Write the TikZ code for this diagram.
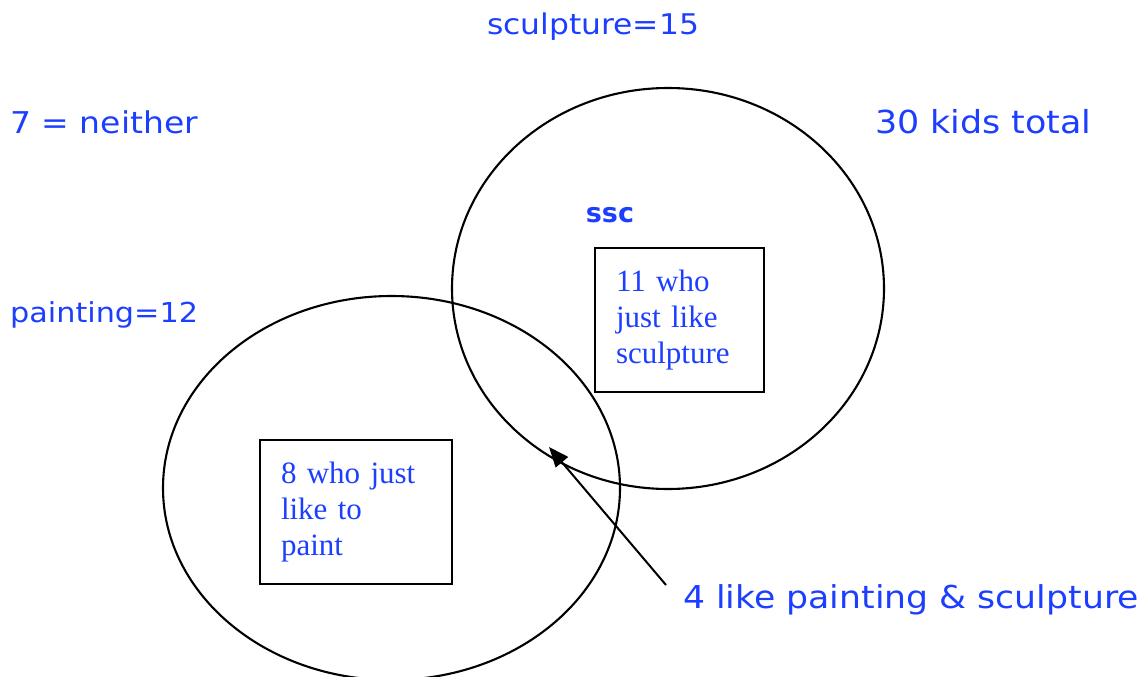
\documentclass[tikz,border=0pt]{standalone}
\usepackage{fontspec}
\setmainfont{DejaVu Sans}[FakeStretch=1.1]
\newfontfamily\boxfont{Liberation Serif}
\newfontfamily\boldsans{DejaVu Sans}
\usetikzlibrary{arrows.meta}
\definecolor{lblue}{RGB}{28,62,255}
\tikzset{
  lbl/.style={text=lblue, inner sep=0pt, font=\fontsize{#1}{34}\selectfont},
  lbl/.default=30,
  setline/.style={line width=2.1pt, black},
  boxnode/.style={draw, line width=2.2pt, text=lblue, align=left, inner xsep=21pt, inner ysep=0pt,
     font=\boxfont\fontsize{31}{36}\selectfont},
}
\begin{document}
\begin{tikzpicture}[x=1pt,y=-1pt]
\useasboundingbox (0,0) rectangle (1143,677);
% sets
\draw[setline] (668,288.5) ellipse [x radius=216pt, y radius=200.5pt];
\draw[setline] (391.5,488) ellipse [x radius=228.5pt, y radius=192pt];
% boxes
\node[boxnode, minimum width=169pt, minimum height=144pt, text width=127pt] (sbox) at (679.5,320) {11 who\\just like\\sculpture};
\node[boxnode, minimum width=192pt, minimum height=144pt, text width=150pt] (pbox) at (356,512) {8 who just\\like to\\paint};
% labels
\node[lbl=28.5] (sc) at (593,27) {sculpture=15};
\node[lbl, anchor=west] (nei) at (10,122) {7 = neither};
\node[lbl=31.7, anchor=west] (tot) at (875,122) {30 kids total};
\node[lbl=27.5, anchor=west] (pai) at (10,315) {painting=12};
\node[text=lblue, inner sep=0pt, font=\boldsans\bfseries\fontsize{27}{30}\selectfont] (ssc) at (610,215) {ssc};
\node[lbl=31.5, anchor=west] (both) at (683,600) {4 like painting \& sculpture};
% arrow
\coordinate (astart) at (666,585);
\coordinate (atip) at (549,447);
\draw[line width=2pt, -{Triangle[length=20pt,width=16pt]}] (astart) -- (atip);
\end{tikzpicture}
\end{document}
